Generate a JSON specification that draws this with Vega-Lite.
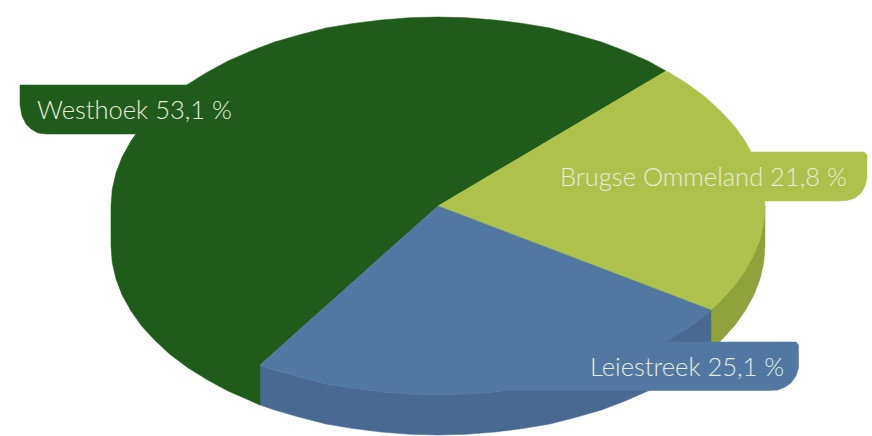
{"$schema":"https://vega.github.io/schema/vega-lite/v6.json","width":872,"height":436,"autosize":{"type":"fit","contains":"padding"},"padding":0,"background":"white","view":{"stroke":null},
"datasets":{"shapes":[
{"s":"a_limeSide","x":765,"y":206},{"s":"a_limeSide","x":765,"y":246},{"s":"a_limeSide","x":763.8,"y":262.5},{"s":"a_limeSide","x":760,"y":279},{"s":"a_limeSide","x":753.9,"y":294.9},{"s":"a_limeSide","x":745,"y":311},{"s":"a_limeSide","x":734.4,"y":325.9},{"s":"a_limeSide","x":721,"y":340.5},{"s":"a_limeSide","x":711,"y":350},{"s":"a_limeSide","x":711,"y":310},{"s":"a_limeSide","x":721,"y":300.5},{"s":"a_limeSide","x":745,"y":271},{"s":"a_limeSide","x":760,"y":239},{"s":"a_limeSide","x":765,"y":206},
{"s":"b_blueSide","x":260,"y":365},{"s":"b_blueSide","x":274.5,"y":370},{"s":"b_blueSide","x":326,"y":384},{"s":"b_blueSide","x":381,"y":392},{"s":"b_blueSide","x":438,"y":395},{"s":"b_blueSide","x":495,"y":392},{"s":"b_blueSide","x":550,"y":384},{"s":"b_blueSide","x":601.5,"y":370},{"s":"b_blueSide","x":648,"y":351},{"s":"b_blueSide","x":688.5,"y":327.5},{"s":"b_blueSide","x":711,"y":310},{"s":"b_blueSide","x":711,"y":350},{"s":"b_blueSide","x":688.5,"y":367.5},{"s":"b_blueSide","x":669.2,"y":379.6},{"s":"b_blueSide","x":648,"y":391},{"s":"b_blueSide","x":625.6,"y":400.8},{"s":"b_blueSide","x":601.5,"y":410},{"s":"b_blueSide","x":576.2,"y":417.3},{"s":"b_blueSide","x":550,"y":424},{"s":"b_blueSide","x":522.6,"y":428.6},{"s":"b_blueSide","x":495,"y":432},{"s":"b_blueSide","x":466.5,"y":434.3},{"s":"b_blueSide","x":438,"y":435},{"s":"b_blueSide","x":409.5,"y":434.3},{"s":"b_blueSide","x":381,"y":432},{"s":"b_blueSide","x":353.4,"y":428.6},{"s":"b_blueSide","x":326,"y":424},{"s":"b_blueSide","x":299.8,"y":417.3},{"s":"b_blueSide","x":274.5,"y":410},{"s":"b_blueSide","x":260,"y":405},{"s":"b_blueSide","x":260,"y":365},
{"s":"c_green","x":438,"y":206},{"s":"c_green","x":666,"y":71},{"s":"c_green","x":648,"y":61},{"s":"c_green","x":625.6,"y":51.2},{"s":"c_green","x":601.5,"y":42},{"s":"c_green","x":576.2,"y":34.7},{"s":"c_green","x":550,"y":28},{"s":"c_green","x":522.6,"y":23.4},{"s":"c_green","x":495,"y":20},{"s":"c_green","x":466.5,"y":17.7},{"s":"c_green","x":438,"y":17},{"s":"c_green","x":409.5,"y":17.7},{"s":"c_green","x":381,"y":20},{"s":"c_green","x":353.4,"y":23.4},{"s":"c_green","x":326,"y":28},{"s":"c_green","x":299.8,"y":34.7},{"s":"c_green","x":274.5,"y":42},{"s":"c_green","x":250.4,"y":51.2},{"s":"c_green","x":228,"y":61},{"s":"c_green","x":206.8,"y":72.4},{"s":"c_green","x":187.5,"y":84.5},{"s":"c_green","x":170.1,"y":97.6},{"s":"c_green","x":155,"y":111.5},{"s":"c_green","x":141.6,"y":126.1},{"s":"c_green","x":131,"y":141},{"s":"c_green","x":122.1,"y":157.1},{"s":"c_green","x":116,"y":173},{"s":"c_green","x":112.2,"y":189.5},{"s":"c_green","x":111,"y":206},{"s":"c_green","x":111,"y":246},{"s":"c_green","x":112.2,"y":262.5},{"s":"c_green","x":116,"y":279},{"s":"c_green","x":122.1,"y":294.9},{"s":"c_green","x":131,"y":311},{"s":"c_green","x":141.6,"y":325.9},{"s":"c_green","x":155,"y":340.5},{"s":"c_green","x":170.1,"y":354.4},{"s":"c_green","x":187.5,"y":367.5},{"s":"c_green","x":206.8,"y":379.6},{"s":"c_green","x":228,"y":391},{"s":"c_green","x":250.4,"y":400.8},{"s":"c_green","x":260,"y":405},{"s":"c_green","x":260,"y":365},{"s":"c_green","x":438,"y":206},
{"s":"d_lime","x":438,"y":206},{"s":"d_lime","x":666,"y":71},{"s":"d_lime","x":669.2,"y":72.4},{"s":"d_lime","x":688.5,"y":84.5},{"s":"d_lime","x":705.9,"y":97.6},{"s":"d_lime","x":721,"y":111.5},{"s":"d_lime","x":734.4,"y":126.1},{"s":"d_lime","x":745,"y":141},{"s":"d_lime","x":753.9,"y":157.1},{"s":"d_lime","x":760,"y":173},{"s":"d_lime","x":763.8,"y":189.5},{"s":"d_lime","x":765,"y":206},{"s":"d_lime","x":763.8,"y":222.5},{"s":"d_lime","x":760,"y":239},{"s":"d_lime","x":753.9,"y":254.9},{"s":"d_lime","x":745,"y":271},{"s":"d_lime","x":734.4,"y":285.9},{"s":"d_lime","x":721,"y":300.5},{"s":"d_lime","x":711,"y":310},{"s":"d_lime","x":438,"y":206},
{"s":"e_blue","x":438,"y":206},{"s":"e_blue","x":711,"y":310},{"s":"e_blue","x":705.9,"y":314.4},{"s":"e_blue","x":688.5,"y":327.5},{"s":"e_blue","x":669.2,"y":339.6},{"s":"e_blue","x":648,"y":351},{"s":"e_blue","x":625.6,"y":360.8},{"s":"e_blue","x":601.5,"y":370},{"s":"e_blue","x":576.2,"y":377.3},{"s":"e_blue","x":550,"y":384},{"s":"e_blue","x":522.6,"y":388.6},{"s":"e_blue","x":495,"y":392},{"s":"e_blue","x":466.5,"y":394.3},{"s":"e_blue","x":438,"y":395},{"s":"e_blue","x":409.5,"y":394.3},{"s":"e_blue","x":381,"y":392},{"s":"e_blue","x":353.4,"y":388.6},{"s":"e_blue","x":326,"y":384},{"s":"e_blue","x":299.8,"y":377.3},{"s":"e_blue","x":274.5,"y":370},{"s":"e_blue","x":260,"y":365},{"s":"e_blue","x":438,"y":206},
{"s":"f_tabGreen","x":20,"y":85},{"s":"f_tabGreen","x":210,"y":85},{"s":"f_tabGreen","x":210,"y":134},{"s":"f_tabGreen","x":46,"y":134},{"s":"f_tabGreen","x":38,"y":133},{"s":"f_tabGreen","x":31,"y":129},{"s":"f_tabGreen","x":26,"y":124},{"s":"f_tabGreen","x":22,"y":116},{"s":"f_tabGreen","x":20,"y":105},{"s":"f_tabGreen","x":20,"y":85},
{"s":"g_tabLime","x":700,"y":152},{"s":"g_tabLime","x":864,"y":152},{"s":"g_tabLime","x":867,"y":155},{"s":"g_tabLime","x":867,"y":178},{"s":"g_tabLime","x":865,"y":186},{"s":"g_tabLime","x":861,"y":193},{"s":"g_tabLime","x":855,"y":198},{"s":"g_tabLime","x":847,"y":200.5},{"s":"g_tabLime","x":838,"y":201},{"s":"g_tabLime","x":700,"y":201},{"s":"g_tabLime","x":700,"y":152},
{"s":"h_tabBlue","x":505,"y":342},{"s":"h_tabBlue","x":796,"y":342},{"s":"h_tabBlue","x":798.5,"y":345},{"s":"h_tabBlue","x":798.5,"y":368},{"s":"h_tabBlue","x":796,"y":376},{"s":"h_tabBlue","x":791,"y":383},{"s":"h_tabBlue","x":785,"y":387},{"s":"h_tabBlue","x":778,"y":390},{"s":"h_tabBlue","x":770,"y":390.5},{"s":"h_tabBlue","x":505,"y":390.5},{"s":"h_tabBlue","x":505,"y":342}
],"labels":[
{"label":"Westhoek 53,1 %","x":37,"y":119},{"label":"Brugse Ommeland 21,8 %","x":560,"y":186},{"label":"Leiestreek 25,1 %","x":590,"y":376}
]},
"layer":[
{"data":{"name":"shapes"},"mark":{"type":"line","strokeWidth":0.5,"strokeJoin":"round"},"encoding":{
"x":{"field":"x","type":"quantitative","scale":{"domain":[0,872]},"axis":null},
"y":{"field":"y","type":"quantitative","scale":{"domain":[436,0]},"axis":null},
"order":{"value":null},
"fill":{"field":"s","type":"nominal","legend":null,"scale":{"domain":["a_limeSide","b_blueSide","c_green","d_lime","e_blue","f_tabGreen","g_tabLime","h_tabBlue"],"range":["#8fa23b","#486a92","#1f5c19","#aec14b","#5078a3","#1f5c19","#aec14b","#5078a3"]}},
"stroke":{"field":"s","type":"nominal","legend":null,"scale":{"domain":["a_limeSide","b_blueSide","c_green","d_lime","e_blue","f_tabGreen","g_tabLime","h_tabBlue"],"range":["#8fa23b","#486a92","#1f5c19","#aec14b","#5078a3","#1f5c19","#aec14b","#5078a3"]}}
}},
{"data":{"name":"labels"},"mark":{"type":"text","align":"left","baseline":"alphabetic","font":"Lato","fontWeight":300,"fontSize":25.5,"fill":"#e6ebdf"},"encoding":{
"x":{"field":"x","type":"quantitative","scale":{"domain":[0,872]},"axis":null},
"y":{"field":"y","type":"quantitative","scale":{"domain":[436,0]},"axis":null},
"text":{"field":"label","type":"nominal"}
}}
]}
